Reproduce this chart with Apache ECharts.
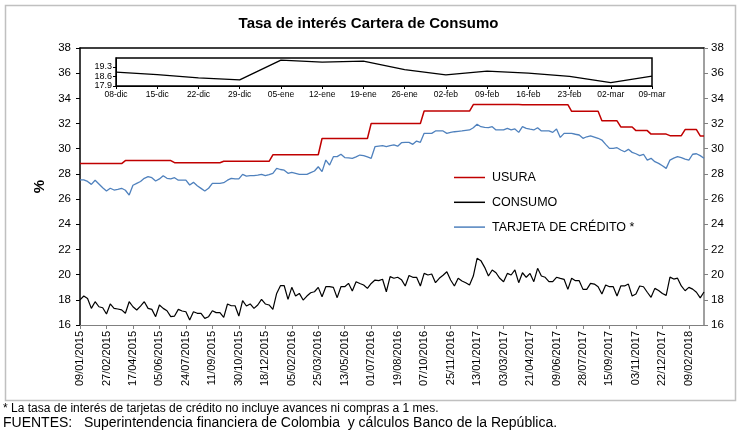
<!DOCTYPE html>
<html>
<head>
<meta charset="utf-8">
<script src="https://cdn.jsdelivr.net/npm/echarts@6/dist/echarts.min.js"></script>
<style>
html,body{margin:0;padding:0;background:#fff;}
#c{width:737px;height:431px;}
</style>
</head>
<body>
<div id="c"></div>
<script>
// ---- DATA ----
const startDay = '2015-01-09'; // first weekly observation (Friday)
const usura = [
28.82,28.82,28.82,28.82,28.82,28.82,28.82,28.82,28.82,28.82,28.82,28.82,
29.06,29.06,29.06,29.06,29.06,29.06,29.06,29.06,29.06,29.06,29.06,29.06,29.06,
28.89,28.89,28.89,28.89,28.89,28.89,28.89,28.89,28.89,28.89,28.89,28.89,28.89,
29.00,29.00,29.00,29.00,29.00,29.00,29.00,29.00,29.00,29.00,29.00,29.00,29.00,
29.52,29.52,29.52,29.52,29.52,29.52,29.52,29.52,29.52,29.52,29.52,29.52,29.52,
30.81,30.81,30.81,30.81,30.81,30.81,30.81,30.81,30.81,30.81,30.81,30.81,30.81,
32.01,32.01,32.01,32.01,32.01,32.01,32.01,32.01,32.01,32.01,32.01,32.01,32.01,32.01,
32.99,32.99,32.99,32.99,32.99,32.99,32.99,32.99,32.99,32.99,32.99,32.99,32.99,
33.51,33.51,33.51,33.51,33.51,33.51,33.51,33.51,33.51,33.51,33.51,33.51,33.51,
33.50,33.50,33.50,33.50,33.50,33.50,33.50,33.50,33.50,33.50,33.50,33.50,33.50,
32.97,32.97,32.97,32.97,32.97,32.97,32.97,32.97,
32.22,32.22,32.22,32.22,32.22,
31.73,31.73,31.73,31.73,
31.44,31.44,31.44,31.44,
31.16,31.16,31.16,31.16,31.16,
31.04,31.04,31.04,31.04,
31.52,31.52,31.52,31.52,
31.02,31.02
];
const consumo = [
18.0,18.3,18.1,17.32,17.85,17.45,17.37,16.87,17.67,17.32,
17.27,17.2,16.93,17.85,17.45,17.19,17.5,17.85,17.32,17.24,
16.66,17.59,17.32,17.13,16.66,16.71,17.24,17.11,17.05,16.4,
17.05,16.93,16.93,16.53,16.66,17.13,16.98,16.98,16.61,17.67,
17.53,17.53,16.71,17.93,17.51,17.67,17.32,17.59,18.04,17.67,
17.59,17.24,18.51,19.12,19.12,18.04,18.99,18.3,18.51,17.98,
18.3,18.56,18.64,18.99,18.25,19.04,19.05,18.99,18.17,19.04,
19.04,19.31,18.7,19.44,19.3,19.18,18.91,19.3,19.57,19.52,
19.63,18.64,19.84,19.71,19.79,19.6,19.1,19.93,19.79,19.79,
19.1,20.1,19.97,20.05,19.36,19.71,19.95,20.23,19.57,19.1,
19.71,19.5,19.36,19.18,19.89,21.3,21.11,20.58,19.89,20.37,
20.15,19.71,19.44,20.1,19.97,20.37,19.36,20.15,19.79,20.1,
19.44,20.5,19.89,19.79,19.44,19.44,19.79,19.7,19.63,18.83,
19.71,19.52,19.52,18.83,18.83,19.31,19.25,19.04,18.46,19.18,
19.04,19.04,18.3,19.1,19.1,19.25,18.3,18.46,19.1,19.04,
18.6,18.2,18.91,18.74,18.5,18.35,19.8,19.65,19.72,19.1,
18.72,18.99,18.85,18.6,18.15,18.62
];
const tarjeta = [
27.52,27.52,27.4,27.17,27.5,27.2,26.9,26.64,26.86,26.72,
26.78,26.86,26.7,26.32,27.1,27.25,27.4,27.65,27.78,27.7,
27.44,27.6,27.86,27.65,27.6,27.7,27.5,27.5,27.5,27.12,
27.33,27.06,26.85,26.64,26.86,27.25,27.25,27.25,27.3,27.5,
27.65,27.6,27.6,27.97,27.83,27.86,27.86,27.9,27.97,27.86,
27.95,28.05,28.44,28.35,28.3,28.05,28.13,28.05,27.97,27.97,
27.97,28.1,28.23,28.57,28.18,29.1,28.7,29.37,29.37,29.56,
29.3,29.27,29.24,29.35,29.5,29.45,29.35,29.24,30.16,30.2,
30.24,30.16,30.25,30.3,30.2,30.48,30.5,30.51,30.35,30.61,
30.51,31.22,31.22,31.22,31.41,31.41,31.41,31.22,31.3,31.35,
31.38,31.41,31.45,31.49,31.67,31.94,31.75,31.7,31.67,31.75,
31.49,31.49,31.49,31.62,31.49,31.57,31.3,31.75,31.62,31.55,
31.49,31.67,31.41,31.41,31.41,31.3,31.57,30.9,31.22,31.22,
31.22,31.15,31.09,30.83,30.95,31.03,30.93,30.83,30.69,30.35,
30.03,30.03,30.08,29.9,29.76,29.95,29.71,29.6,29.45,29.56,
29.1,29.24,28.97,28.84,28.65,28.44,29.1,29.25,29.37,29.3,
29.18,29.1,29.56,29.6,29.45,29.24
];
const insetLabels = ['08-dic','15-dic','22-dic','29-dic','05-ene','12-ene','19-ene','26-ene','02-feb','09-feb','16-feb','23-feb','02-mar','09-mar'];
const yTicks = {min:16, max:38, step:2};
const insetTicks = [17.9, 18.6, 19.3];

// ---- build categories (weekly dates) ----
const categories = [];
(function(){
  const p = startDay.split('-').map(Number);
  for (let i = 0; i < usura.length; i++) {
    const d = new Date(Date.UTC(p[0], p[1]-1, p[2] + 7*i));
    const dd = String(d.getUTCDate()).padStart(2,'0');
    const mm = String(d.getUTCMonth()+1).padStart(2,'0');
    categories.push(dd + '/' + mm + '/' + d.getUTCFullYear());
  }
})();
const insetData = consumo.slice(consumo.length - insetLabels.length);

const FONT = "'Liberation Sans', Arial, sans-serif";
const chart = echarts.init(document.getElementById('c'), null, {renderer:'canvas'});
chart.setOption({
  animation:false,
  backgroundColor:'#fff',
  textStyle:{fontFamily:FONT},
  title:{
    text:'Tasa de interés Cartera de Consumo',
    left:'center', top:11,
    textStyle:{fontFamily:FONT, fontSize:15, fontWeight:'bold', color:'#000'}
  },
  legend:{
    orient:'vertical', left:449, top:166,
    icon:'rect', itemWidth:31, itemHeight:1.5, itemGap:11.8,
    textStyle:{fontFamily:FONT, fontSize:12.5, color:'#000', padding:[0,0,0,2]},
    data:['USURA','CONSUMO','TARJETA DE CRÉDITO *']
  },
  grid:[
    {left:80, right:33, top:48, bottom:106, containLabel:false},
    {left:116, right:85, top:58, height:28, show:true, backgroundColor:'#fff', borderColor:'#000', borderWidth:1.5, z:10}
  ],
  xAxis:[
    {
      type:'category', gridIndex:0, data:categories, boundaryGap:false,
      axisLine:{lineStyle:{color:'#808080', width:1}},
      axisTick:{interval:6, length:4, lineStyle:{color:'#808080'}},
      axisLabel:{interval:6, rotate:90, fontSize:11, color:'#000', fontFamily:FONT, margin:6}
    },
    {
      type:'category', gridIndex:0, data:categories, position:'top', boundaryGap:false,
      axisLine:{lineStyle:{color:'#000', width:1.5}},
      axisTick:{show:false}, axisLabel:{show:false}
    },
    {
      type:'category', gridIndex:1, data:insetLabels, boundaryGap:false,
      axisLine:{lineStyle:{color:'#000', width:1}},
      axisTick:{show:true, interval:0, length:3, lineStyle:{color:'#000'}},
      axisLabel:{interval:0, fontSize:8.5, color:'#000', fontFamily:FONT, margin:4},
      z:11
    }
  ],
  yAxis:[
    {
      type:'value', gridIndex:0, min:yTicks.min, max:yTicks.max, interval:yTicks.step,
      position:'left',
      name:'%', nameLocation:'middle', nameGap:33, nameRotate:90,
      nameTextStyle:{fontFamily:FONT, fontSize:15, fontWeight:'bold', color:'#000'},
      axisLine:{show:true, lineStyle:{color:'#000', width:1.5}},
      axisTick:{show:true, length:4, lineStyle:{color:'#000'}},
      axisLabel:{fontSize:11.5, color:'#000', fontFamily:FONT, margin:9},
      splitLine:{show:false}
    },
    {
      type:'value', gridIndex:0, min:yTicks.min, max:yTicks.max, interval:yTicks.step,
      position:'right',
      axisLine:{show:true, lineStyle:{color:'#808080', width:1.5}},
      axisTick:{show:true, length:4, lineStyle:{color:'#808080'}},
      axisLabel:{fontSize:11.5, color:'#000', fontFamily:FONT, margin:7},
      splitLine:{show:false}
    },
    {
      type:'value', gridIndex:1, min:17.9, max:19.95,
      axisLine:{show:true, lineStyle:{color:'#000', width:1}},
      axisTick:{show:true, length:3, customValues:insetTicks, lineStyle:{color:'#000'}},
      axisLabel:{fontSize:9, color:'#000', fontFamily:FONT, margin:4, customValues:insetTicks,
        formatter:function(v){return v.toFixed(1);}},
      splitLine:{show:false},
      z:11
    }
  ],
  series:[
    {name:'USURA', type:'line', xAxisIndex:0, yAxisIndex:0, data:usura, symbol:'none',
     lineStyle:{color:'#C00000', width:1.5}, itemStyle:{color:'#C00000'}},
    {name:'CONSUMO', type:'line', xAxisIndex:0, yAxisIndex:0, data:consumo, symbol:'none',
     lineStyle:{color:'#000', width:1.2}, itemStyle:{color:'#000'}},
    {name:'TARJETA DE CRÉDITO *', type:'line', xAxisIndex:0, yAxisIndex:0, data:tarjeta, symbol:'none',
     lineStyle:{color:'#4F81BD', width:1.3}, itemStyle:{color:'#4F81BD'}},
    {name:'inset', type:'line', xAxisIndex:2, yAxisIndex:2, data:insetData, symbol:'none',
     lineStyle:{color:'#000', width:1.3}, z:12}
  ],
  graphic:[
    {type:'rect', left:3, top:3, shape:{width:730, height:395}, silent:true, z:-1,
     style:{fill:'none', stroke:'#c0c0c0', lineWidth:1.5}},
    {type:'text', left:3, top:403, silent:true,
     style:{text:'* La tasa de interés de tarjetas de crédito no incluye avances ni compras a 1 mes.', font:"12px 'Liberation Sans', Arial", fill:'#000'}},
    {type:'text', left:3, top:416, silent:true,
     style:{text:'FUENTES:   Superintendencia financiera de Colombia  y cálculos Banco de la República.', font:"14px 'Liberation Sans', Arial", fill:'#000'}}
  ]
});
</script>
</body>
</html>
